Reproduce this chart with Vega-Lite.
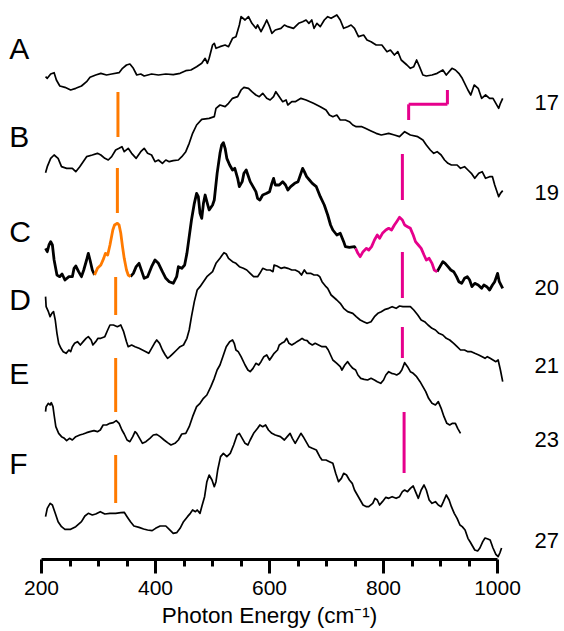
{
"$schema": "https://vega.github.io/schema/vega-lite/v6.json",
"width": 456, "height": 559,
"autosize": {"type": "none"},
"padding": {"left": 41, "top": 0, "right": 67, "bottom": 72},
"background": "white",
"config": {"view": {"stroke": null}, "font": "Liberation Sans"},
"datasets": {
"spectra": [
{"s":"A","x":208,"y":1447},{"s":"A","x":211,"y":1442},{"s":"A","x":217,"y":1455},{"s":"A","x":223,"y":1459},{"s":"A","x":227,"y":1437},{"s":"A","x":233,"y":1419},{"s":"A","x":242,"y":1415},{"s":"A","x":252,"y":1407},{"s":"A","x":261,"y":1412},{"s":"A","x":271,"y":1419},{"s":"A","x":280,"y":1432},{"s":"A","x":286,"y":1445},{"s":"A","x":296,"y":1452},{"s":"A","x":305,"y":1457},{"s":"A","x":315,"y":1452},{"s":"A","x":324,"y":1455},{"s":"A","x":337,"y":1459},{"s":"A","x":343,"y":1472},{"s":"A","x":350,"y":1482},{"s":"A","x":356,"y":1485},{"s":"A","x":362,"y":1472},{"s":"A","x":368,"y":1452},{"s":"A","x":375,"y":1455},{"s":"A","x":381,"y":1449},{"s":"A","x":394,"y":1455},{"s":"A","x":406,"y":1452},{"s":"A","x":419,"y":1455},{"s":"A","x":432,"y":1453},{"s":"A","x":444,"y":1457},{"s":"A","x":454,"y":1465},{"s":"A","x":463,"y":1467},{"s":"A","x":473,"y":1477},{"s":"A","x":482,"y":1487},{"s":"A","x":488,"y":1502},{"s":"A","x":492,"y":1487},{"s":"A","x":495,"y":1502},{"s":"A","x":501,"y":1542},{"s":"A","x":504,"y":1547},{"s":"A","x":507,"y":1532},{"s":"A","x":514,"y":1537},{"s":"A","x":523,"y":1542},{"s":"A","x":529,"y":1537},{"s":"A","x":536,"y":1562},{"s":"A","x":542,"y":1567},{"s":"A","x":548,"y":1602},{"s":"A","x":551,"y":1627},{"s":"A","x":558,"y":1617},{"s":"A","x":564,"y":1627},{"s":"A","x":570,"y":1607},{"s":"A","x":577,"y":1592},{"s":"A","x":580,"y":1602},{"s":"A","x":586,"y":1582},{"s":"A","x":592,"y":1602},{"s":"A","x":596,"y":1617},{"s":"A","x":601,"y":1597},{"s":"A","x":605,"y":1577},{"s":"A","x":611,"y":1587},{"s":"A","x":621,"y":1592},{"s":"A","x":627,"y":1602},{"s":"A","x":633,"y":1597},{"s":"A","x":643,"y":1592},{"s":"A","x":652,"y":1607},{"s":"A","x":659,"y":1612},{"s":"A","x":665,"y":1617},{"s":"A","x":670,"y":1607},{"s":"A","x":675,"y":1617},{"s":"A","x":679,"y":1592},{"s":"A","x":684,"y":1607},{"s":"A","x":690,"y":1597},{"s":"A","x":697,"y":1617},{"s":"A","x":703,"y":1627},{"s":"A","x":709,"y":1622},{"s":"A","x":719,"y":1632},{"s":"A","x":725,"y":1617},{"s":"A","x":731,"y":1592},{"s":"A","x":738,"y":1597},{"s":"A","x":744,"y":1602},{"s":"A","x":750,"y":1592},{"s":"A","x":757,"y":1567},{"s":"A","x":766,"y":1572},{"s":"A","x":772,"y":1557},{"s":"A","x":779,"y":1552},{"s":"A","x":788,"y":1542},{"s":"A","x":798,"y":1542},{"s":"A","x":807,"y":1522},{"s":"A","x":813,"y":1527},{"s":"A","x":820,"y":1512},{"s":"A","x":826,"y":1522},{"s":"A","x":832,"y":1497},{"s":"A","x":842,"y":1482},{"s":"A","x":848,"y":1472},{"s":"A","x":854,"y":1477},{"s":"A","x":859,"y":1497},{"s":"A","x":864,"y":1477},{"s":"A","x":870,"y":1452},{"s":"A","x":876,"y":1449},{"s":"A","x":886,"y":1452},{"s":"A","x":895,"y":1457},{"s":"A","x":905,"y":1467},{"s":"A","x":911,"y":1452},{"s":"A","x":921,"y":1472},{"s":"A","x":927,"y":1467},{"s":"A","x":933,"y":1457},{"s":"A","x":939,"y":1442},{"s":"A","x":949,"y":1407},{"s":"A","x":954,"y":1392},{"s":"A","x":960,"y":1422},{"s":"A","x":967,"y":1412},{"s":"A","x":973,"y":1382},{"s":"A","x":980,"y":1392},{"s":"A","x":987,"y":1382},{"s":"A","x":993,"y":1382},{"s":"A","x":998,"y":1367},{"s":"A","x":1003,"y":1352},{"s":"A","x":1006,"y":1367},{"s":"A","x":1010,"y":1382},
{"s":"B","x":208,"y":1159},{"s":"B","x":211,"y":1177},{"s":"B","x":217,"y":1202},{"s":"B","x":223,"y":1212},{"s":"B","x":230,"y":1202},{"s":"B","x":236,"y":1177},{"s":"B","x":245,"y":1172},{"s":"B","x":255,"y":1172},{"s":"B","x":261,"y":1162},{"s":"B","x":268,"y":1177},{"s":"B","x":274,"y":1192},{"s":"B","x":280,"y":1207},{"s":"B","x":290,"y":1212},{"s":"B","x":299,"y":1217},{"s":"B","x":305,"y":1212},{"s":"B","x":312,"y":1202},{"s":"B","x":318,"y":1197},{"s":"B","x":324,"y":1207},{"s":"B","x":331,"y":1227},{"s":"B","x":337,"y":1232},{"s":"B","x":342,"y":1237},{"s":"B","x":346,"y":1222},{"s":"B","x":353,"y":1232},{"s":"B","x":359,"y":1217},{"s":"B","x":367,"y":1202},{"s":"B","x":375,"y":1222},{"s":"B","x":381,"y":1232},{"s":"B","x":387,"y":1217},{"s":"B","x":394,"y":1212},{"s":"B","x":400,"y":1192},{"s":"B","x":406,"y":1197},{"s":"B","x":413,"y":1187},{"s":"B","x":419,"y":1197},{"s":"B","x":425,"y":1192},{"s":"B","x":432,"y":1195},{"s":"B","x":441,"y":1197},{"s":"B","x":447,"y":1207},{"s":"B","x":454,"y":1222},{"s":"B","x":460,"y":1247},{"s":"B","x":466,"y":1277},{"s":"B","x":473,"y":1302},{"s":"B","x":482,"y":1319},{"s":"B","x":495,"y":1322},{"s":"B","x":504,"y":1327},{"s":"B","x":507,"y":1352},{"s":"B","x":514,"y":1362},{"s":"B","x":523,"y":1357},{"s":"B","x":529,"y":1367},{"s":"B","x":536,"y":1382},{"s":"B","x":545,"y":1387},{"s":"B","x":551,"y":1407},{"s":"B","x":556,"y":1415},{"s":"B","x":564,"y":1412},{"s":"B","x":570,"y":1402},{"s":"B","x":577,"y":1392},{"s":"B","x":583,"y":1387},{"s":"B","x":589,"y":1397},{"s":"B","x":596,"y":1382},{"s":"B","x":602,"y":1377},{"s":"B","x":608,"y":1387},{"s":"B","x":612,"y":1402},{"s":"B","x":618,"y":1387},{"s":"B","x":624,"y":1372},{"s":"B","x":630,"y":1377},{"s":"B","x":633,"y":1362},{"s":"B","x":640,"y":1372},{"s":"B","x":646,"y":1372},{"s":"B","x":656,"y":1382},{"s":"B","x":665,"y":1377},{"s":"B","x":678,"y":1367},{"s":"B","x":690,"y":1357},{"s":"B","x":700,"y":1347},{"s":"B","x":706,"y":1332},{"s":"B","x":712,"y":1327},{"s":"B","x":719,"y":1332},{"s":"B","x":725,"y":1317},{"s":"B","x":734,"y":1317},{"s":"B","x":741,"y":1312},{"s":"B","x":747,"y":1302},{"s":"B","x":753,"y":1297},{"s":"B","x":763,"y":1297},{"s":"B","x":769,"y":1292},{"s":"B","x":779,"y":1284},{"s":"B","x":788,"y":1277},{"s":"B","x":797,"y":1272},{"s":"B","x":810,"y":1277},{"s":"B","x":820,"y":1272},{"s":"B","x":829,"y":1267},{"s":"B","x":838,"y":1282},{"s":"B","x":848,"y":1272},{"s":"B","x":861,"y":1267},{"s":"B","x":870,"y":1257},{"s":"B","x":876,"y":1242},{"s":"B","x":883,"y":1227},{"s":"B","x":889,"y":1217},{"s":"B","x":895,"y":1222},{"s":"B","x":902,"y":1212},{"s":"B","x":908,"y":1197},{"s":"B","x":914,"y":1187},{"s":"B","x":920,"y":1182},{"s":"B","x":930,"y":1182},{"s":"B","x":936,"y":1172},{"s":"B","x":943,"y":1177},{"s":"B","x":949,"y":1167},{"s":"B","x":955,"y":1157},{"s":"B","x":961,"y":1142},{"s":"B","x":968,"y":1157},{"s":"B","x":974,"y":1162},{"s":"B","x":980,"y":1142},{"s":"B","x":987,"y":1147},{"s":"B","x":992,"y":1147},{"s":"B","x":996,"y":1122},{"s":"B","x":1003,"y":1087},{"s":"B","x":1006,"y":1097},{"s":"B","x":1010,"y":1105},
{"s":"C1","x":208,"y":932},{"s":"C1","x":211,"y":922},{"s":"C1","x":214,"y":942},{"s":"C1","x":217,"y":952},{"s":"C1","x":220,"y":942},{"s":"C1","x":223,"y":897},{"s":"C1","x":228,"y":852},{"s":"C1","x":233,"y":847},{"s":"C1","x":237,"y":855},{"s":"C1","x":242,"y":837},{"s":"C1","x":249,"y":847},{"s":"C1","x":255,"y":847},{"s":"C1","x":258,"y":872},{"s":"C1","x":261,"y":879},{"s":"C1","x":266,"y":862},{"s":"C1","x":271,"y":847},{"s":"C1","x":275,"y":867},{"s":"C1","x":280,"y":897},{"s":"C1","x":283,"y":917},{"s":"C1","x":286,"y":897},{"s":"C1","x":290,"y":867},{"s":"C1","x":294,"y":852},
{"s":"Co","x":294,"y":852},{"s":"Co","x":299,"y":872},{"s":"Co","x":305,"y":882},{"s":"Co","x":310,"y":902},{"s":"Co","x":313,"y":917},{"s":"Co","x":317,"y":912},{"s":"Co","x":321,"y":942},{"s":"Co","x":326,"y":987},{"s":"Co","x":329,"y":1002},{"s":"Co","x":334,"y":1007},{"s":"Co","x":337,"y":1002},{"s":"Co","x":340,"y":977},{"s":"Co","x":343,"y":937},{"s":"Co","x":346,"y":902},{"s":"Co","x":350,"y":867},{"s":"Co","x":353,"y":852},{"s":"Co","x":357,"y":847},
{"s":"C2","x":357,"y":847},{"s":"C2","x":362,"y":857},{"s":"C2","x":367,"y":877},{"s":"C2","x":372,"y":887},{"s":"C2","x":377,"y":862},{"s":"C2","x":381,"y":842},{"s":"C2","x":387,"y":847},{"s":"C2","x":394,"y":877},{"s":"C2","x":400,"y":897},{"s":"C2","x":406,"y":887},{"s":"C2","x":413,"y":862},{"s":"C2","x":419,"y":842},{"s":"C2","x":425,"y":832},{"s":"C2","x":432,"y":827},{"s":"C2","x":438,"y":847},{"s":"C2","x":441,"y":877},{"s":"C2","x":447,"y":872},{"s":"C2","x":452,"y":882},{"s":"C2","x":456,"y":917},{"s":"C2","x":460,"y":967},{"s":"C2","x":464,"y":1017},{"s":"C2","x":469,"y":1067},{"s":"C2","x":473,"y":1097},{"s":"C2","x":476,"y":1087},{"s":"C2","x":479,"y":1037},{"s":"C2","x":482,"y":1022},{"s":"C2","x":485,"y":1067},{"s":"C2","x":488,"y":1092},{"s":"C2","x":491,"y":1072},{"s":"C2","x":495,"y":1047},{"s":"C2","x":501,"y":1062},{"s":"C2","x":504,"y":1077},{"s":"C2","x":509,"y":1157},{"s":"C2","x":514,"y":1217},{"s":"C2","x":517,"y":1242},{"s":"C2","x":520,"y":1249},{"s":"C2","x":523,"y":1232},{"s":"C2","x":526,"y":1202},{"s":"C2","x":531,"y":1182},{"s":"C2","x":536,"y":1167},{"s":"C2","x":540,"y":1172},{"s":"C2","x":545,"y":1142},{"s":"C2","x":548,"y":1117},{"s":"C2","x":553,"y":1132},{"s":"C2","x":556,"y":1157},{"s":"C2","x":560,"y":1167},{"s":"C2","x":563,"y":1152},{"s":"C2","x":567,"y":1132},{"s":"C2","x":572,"y":1117},{"s":"C2","x":577,"y":1102},{"s":"C2","x":580,"y":1082},{"s":"C2","x":584,"y":1077},{"s":"C2","x":589,"y":1092},{"s":"C2","x":596,"y":1097},{"s":"C2","x":601,"y":1102},{"s":"C2","x":605,"y":1127},{"s":"C2","x":608,"y":1142},{"s":"C2","x":611,"y":1122},{"s":"C2","x":618,"y":1122},{"s":"C2","x":624,"y":1132},{"s":"C2","x":629,"y":1122},{"s":"C2","x":633,"y":1107},{"s":"C2","x":638,"y":1117},{"s":"C2","x":645,"y":1127},{"s":"C2","x":651,"y":1132},{"s":"C2","x":656,"y":1157},{"s":"C2","x":659,"y":1172},{"s":"C2","x":662,"y":1162},{"s":"C2","x":666,"y":1147},{"s":"C2","x":671,"y":1137},{"s":"C2","x":676,"y":1127},{"s":"C2","x":683,"y":1117},{"s":"C2","x":690,"y":1087},{"s":"C2","x":697,"y":1062},{"s":"C2","x":703,"y":1032},{"s":"C2","x":708,"y":1002},{"s":"C2","x":712,"y":987},{"s":"C2","x":719,"y":972},{"s":"C2","x":725,"y":977},{"s":"C2","x":731,"y":952},{"s":"C2","x":734,"y":937},{"s":"C2","x":741,"y":935},{"s":"C2","x":750,"y":937},{"s":"C2","x":752,"y":932},
{"s":"Cm","x":752,"y":932},{"s":"Cm","x":756,"y":917},{"s":"Cm","x":760,"y":907},{"s":"Cm","x":765,"y":922},{"s":"Cm","x":771,"y":932},{"s":"Cm","x":775,"y":927},{"s":"Cm","x":780,"y":937},{"s":"Cm","x":785,"y":957},{"s":"Cm","x":790,"y":972},{"s":"Cm","x":794,"y":962},{"s":"Cm","x":799,"y":977},{"s":"Cm","x":805,"y":987},{"s":"Cm","x":810,"y":992},{"s":"Cm","x":815,"y":987},{"s":"Cm","x":820,"y":1002},{"s":"Cm","x":824,"y":1012},{"s":"Cm","x":829,"y":1025},{"s":"Cm","x":834,"y":1017},{"s":"Cm","x":838,"y":1002},{"s":"Cm","x":843,"y":997},{"s":"Cm","x":848,"y":992},{"s":"Cm","x":853,"y":972},{"s":"Cm","x":857,"y":952},{"s":"Cm","x":862,"y":942},{"s":"Cm","x":867,"y":932},{"s":"Cm","x":872,"y":912},{"s":"Cm","x":876,"y":897},{"s":"Cm","x":881,"y":902},{"s":"Cm","x":886,"y":887},{"s":"Cm","x":890,"y":867},{"s":"Cm","x":895,"y":862},
{"s":"C3","x":895,"y":862},{"s":"C3","x":900,"y":877},{"s":"C3","x":905,"y":892},{"s":"C3","x":909,"y":887},{"s":"C3","x":914,"y":877},{"s":"C3","x":919,"y":867},{"s":"C3","x":924,"y":862},{"s":"C3","x":929,"y":847},{"s":"C3","x":933,"y":832},{"s":"C3","x":938,"y":827},{"s":"C3","x":943,"y":842},{"s":"C3","x":948,"y":847},{"s":"C3","x":952,"y":837},{"s":"C3","x":956,"y":817},{"s":"C3","x":961,"y":827},{"s":"C3","x":967,"y":822},{"s":"C3","x":973,"y":812},{"s":"C3","x":977,"y":822},{"s":"C3","x":982,"y":817},{"s":"C3","x":987,"y":807},{"s":"C3","x":992,"y":822},{"s":"C3","x":996,"y":832},{"s":"C3","x":1001,"y":857},{"s":"C3","x":1004,"y":832},{"s":"C3","x":1010,"y":812},
{"s":"D","x":208,"y":787},{"s":"D","x":209,"y":757},{"s":"D","x":213,"y":742},{"s":"D","x":216,"y":727},{"s":"D","x":219,"y":737},{"s":"D","x":222,"y":742},{"s":"D","x":225,"y":717},{"s":"D","x":228,"y":677},{"s":"D","x":231,"y":647},{"s":"D","x":235,"y":632},{"s":"D","x":239,"y":622},{"s":"D","x":244,"y":617},{"s":"D","x":249,"y":627},{"s":"D","x":252,"y":622},{"s":"D","x":255,"y":637},{"s":"D","x":259,"y":647},{"s":"D","x":264,"y":652},{"s":"D","x":269,"y":642},{"s":"D","x":274,"y":652},{"s":"D","x":279,"y":662},{"s":"D","x":283,"y":667},{"s":"D","x":288,"y":657},{"s":"D","x":291,"y":642},{"s":"D","x":296,"y":652},{"s":"D","x":300,"y":662},{"s":"D","x":305,"y":662},{"s":"D","x":312,"y":667},{"s":"D","x":317,"y":687},{"s":"D","x":321,"y":702},{"s":"D","x":327,"y":702},{"s":"D","x":334,"y":697},{"s":"D","x":340,"y":702},{"s":"D","x":345,"y":682},{"s":"D","x":350,"y":652},{"s":"D","x":353,"y":637},{"s":"D","x":359,"y":642},{"s":"D","x":365,"y":637},{"s":"D","x":372,"y":632},{"s":"D","x":378,"y":627},{"s":"D","x":384,"y":622},{"s":"D","x":389,"y":617},{"s":"D","x":394,"y":632},{"s":"D","x":399,"y":647},{"s":"D","x":403,"y":657},{"s":"D","x":408,"y":647},{"s":"D","x":413,"y":627},{"s":"D","x":418,"y":612},{"s":"D","x":422,"y":602},{"s":"D","x":426,"y":607},{"s":"D","x":432,"y":617},{"s":"D","x":438,"y":627},{"s":"D","x":444,"y":637},{"s":"D","x":450,"y":642},{"s":"D","x":456,"y":662},{"s":"D","x":460,"y":687},{"s":"D","x":464,"y":727},{"s":"D","x":469,"y":772},{"s":"D","x":474,"y":807},{"s":"D","x":479,"y":817},{"s":"D","x":485,"y":832},{"s":"D","x":491,"y":847},{"s":"D","x":501,"y":862},{"s":"D","x":507,"y":887},{"s":"D","x":514,"y":902},{"s":"D","x":518,"y":912},{"s":"D","x":521,"y":919},{"s":"D","x":525,"y":915},{"s":"D","x":529,"y":902},{"s":"D","x":536,"y":892},{"s":"D","x":542,"y":887},{"s":"D","x":548,"y":877},{"s":"D","x":555,"y":872},{"s":"D","x":561,"y":867},{"s":"D","x":567,"y":857},{"s":"D","x":573,"y":847},{"s":"D","x":580,"y":847},{"s":"D","x":584,"y":857},{"s":"D","x":589,"y":872},{"s":"D","x":596,"y":867},{"s":"D","x":602,"y":867},{"s":"D","x":607,"y":862},{"s":"D","x":609,"y":882},{"s":"D","x":614,"y":879},{"s":"D","x":621,"y":872},{"s":"D","x":627,"y":875},{"s":"D","x":633,"y":872},{"s":"D","x":640,"y":867},{"s":"D","x":646,"y":867},{"s":"D","x":652,"y":862},{"s":"D","x":657,"y":852},{"s":"D","x":662,"y":867},{"s":"D","x":666,"y":857},{"s":"D","x":673,"y":857},{"s":"D","x":679,"y":852},{"s":"D","x":685,"y":852},{"s":"D","x":689,"y":847},{"s":"D","x":693,"y":832},{"s":"D","x":700,"y":817},{"s":"D","x":703,"y":812},{"s":"D","x":709,"y":792},{"s":"D","x":719,"y":777},{"s":"D","x":725,"y":767},{"s":"D","x":731,"y":752},{"s":"D","x":738,"y":742},{"s":"D","x":747,"y":737},{"s":"D","x":753,"y":727},{"s":"D","x":760,"y":717},{"s":"D","x":766,"y":712},{"s":"D","x":772,"y":707},{"s":"D","x":779,"y":712},{"s":"D","x":785,"y":727},{"s":"D","x":791,"y":737},{"s":"D","x":797,"y":742},{"s":"D","x":804,"y":749},{"s":"D","x":810,"y":752},{"s":"D","x":816,"y":757},{"s":"D","x":823,"y":752},{"s":"D","x":829,"y":759},{"s":"D","x":835,"y":757},{"s":"D","x":842,"y":757},{"s":"D","x":848,"y":757},{"s":"D","x":854,"y":747},{"s":"D","x":861,"y":732},{"s":"D","x":867,"y":717},{"s":"D","x":873,"y":712},{"s":"D","x":879,"y":702},{"s":"D","x":886,"y":692},{"s":"D","x":892,"y":687},{"s":"D","x":898,"y":677},{"s":"D","x":905,"y":672},{"s":"D","x":911,"y":662},{"s":"D","x":917,"y":657},{"s":"D","x":924,"y":647},{"s":"D","x":930,"y":637},{"s":"D","x":936,"y":627},{"s":"D","x":943,"y":627},{"s":"D","x":949,"y":622},{"s":"D","x":955,"y":622},{"s":"D","x":961,"y":617},{"s":"D","x":968,"y":612},{"s":"D","x":974,"y":607},{"s":"D","x":979,"y":602},{"s":"D","x":983,"y":607},{"s":"D","x":988,"y":602},{"s":"D","x":993,"y":597},{"s":"D","x":998,"y":592},{"s":"D","x":1002,"y":597},{"s":"D","x":1006,"y":567},{"s":"D","x":1010,"y":532},
{"s":"E","x":208,"y":442},{"s":"E","x":209,"y":457},{"s":"E","x":213,"y":467},{"s":"E","x":216,"y":462},{"s":"E","x":218,"y":469},{"s":"E","x":221,"y":457},{"s":"E","x":223,"y":432},{"s":"E","x":226,"y":397},{"s":"E","x":231,"y":377},{"s":"E","x":236,"y":367},{"s":"E","x":241,"y":362},{"s":"E","x":245,"y":355},{"s":"E","x":250,"y":362},{"s":"E","x":255,"y":357},{"s":"E","x":261,"y":367},{"s":"E","x":268,"y":372},{"s":"E","x":274,"y":375},{"s":"E","x":280,"y":379},{"s":"E","x":286,"y":382},{"s":"E","x":293,"y":385},{"s":"E","x":299,"y":382},{"s":"E","x":304,"y":387},{"s":"E","x":309,"y":402},{"s":"E","x":315,"y":402},{"s":"E","x":321,"y":407},{"s":"E","x":327,"y":409},{"s":"E","x":332,"y":415},{"s":"E","x":337,"y":407},{"s":"E","x":342,"y":387},{"s":"E","x":346,"y":375},{"s":"E","x":351,"y":357},{"s":"E","x":356,"y":352},{"s":"E","x":361,"y":367},{"s":"E","x":365,"y":382},{"s":"E","x":368,"y":377},{"s":"E","x":373,"y":362},{"s":"E","x":378,"y":347},{"s":"E","x":384,"y":352},{"s":"E","x":391,"y":362},{"s":"E","x":397,"y":372},{"s":"E","x":403,"y":374},{"s":"E","x":409,"y":367},{"s":"E","x":416,"y":357},{"s":"E","x":422,"y":349},{"s":"E","x":428,"y":342},{"s":"E","x":435,"y":347},{"s":"E","x":441,"y":357},{"s":"E","x":447,"y":375},{"s":"E","x":454,"y":377},{"s":"E","x":460,"y":397},{"s":"E","x":466,"y":427},{"s":"E","x":473,"y":457},{"s":"E","x":479,"y":467},{"s":"E","x":485,"y":482},{"s":"E","x":491,"y":492},{"s":"E","x":498,"y":517},{"s":"E","x":504,"y":542},{"s":"E","x":509,"y":567},{"s":"E","x":514,"y":582},{"s":"E","x":519,"y":607},{"s":"E","x":525,"y":637},{"s":"E","x":531,"y":652},{"s":"E","x":536,"y":657},{"s":"E","x":539,"y":647},{"s":"E","x":542,"y":627},{"s":"E","x":546,"y":622},{"s":"E","x":551,"y":607},{"s":"E","x":558,"y":582},{"s":"E","x":563,"y":567},{"s":"E","x":567,"y":562},{"s":"E","x":572,"y":572},{"s":"E","x":577,"y":587},{"s":"E","x":582,"y":582},{"s":"E","x":586,"y":592},{"s":"E","x":591,"y":607},{"s":"E","x":596,"y":612},{"s":"E","x":601,"y":597},{"s":"E","x":605,"y":607},{"s":"E","x":609,"y":617},{"s":"E","x":615,"y":627},{"s":"E","x":618,"y":642},{"s":"E","x":622,"y":647},{"s":"E","x":627,"y":652},{"s":"E","x":631,"y":662},{"s":"E","x":635,"y":647},{"s":"E","x":640,"y":642},{"s":"E","x":645,"y":647},{"s":"E","x":649,"y":652},{"s":"E","x":654,"y":657},{"s":"E","x":658,"y":662},{"s":"E","x":662,"y":657},{"s":"E","x":667,"y":655},{"s":"E","x":671,"y":647},{"s":"E","x":676,"y":642},{"s":"E","x":681,"y":647},{"s":"E","x":687,"y":642},{"s":"E","x":693,"y":637},{"s":"E","x":700,"y":637},{"s":"E","x":704,"y":627},{"s":"E","x":708,"y":612},{"s":"E","x":712,"y":597},{"s":"E","x":719,"y":587},{"s":"E","x":725,"y":577},{"s":"E","x":728,"y":567},{"s":"E","x":733,"y":582},{"s":"E","x":738,"y":592},{"s":"E","x":742,"y":582},{"s":"E","x":747,"y":572},{"s":"E","x":752,"y":567},{"s":"E","x":756,"y":552},{"s":"E","x":761,"y":542},{"s":"E","x":767,"y":539},{"s":"E","x":773,"y":537},{"s":"E","x":779,"y":542},{"s":"E","x":785,"y":537},{"s":"E","x":790,"y":532},{"s":"E","x":796,"y":527},{"s":"E","x":801,"y":537},{"s":"E","x":805,"y":552},{"s":"E","x":810,"y":562},{"s":"E","x":815,"y":557},{"s":"E","x":820,"y":555},{"s":"E","x":824,"y":552},{"s":"E","x":829,"y":557},{"s":"E","x":833,"y":567},{"s":"E","x":838,"y":589},{"s":"E","x":843,"y":577},{"s":"E","x":848,"y":562},{"s":"E","x":853,"y":557},{"s":"E","x":859,"y":547},{"s":"E","x":865,"y":532},{"s":"E","x":870,"y":517},{"s":"E","x":875,"y":502},{"s":"E","x":880,"y":482},{"s":"E","x":886,"y":467},{"s":"E","x":892,"y":462},{"s":"E","x":897,"y":472},{"s":"E","x":902,"y":452},{"s":"E","x":907,"y":427},{"s":"E","x":912,"y":407},{"s":"E","x":917,"y":402},{"s":"E","x":922,"y":407},{"s":"E","x":927,"y":407},{"s":"E","x":931,"y":392},{"s":"E","x":936,"y":377},
{"s":"F","x":208,"y":127},{"s":"F","x":211,"y":152},{"s":"F","x":216,"y":167},{"s":"F","x":220,"y":162},{"s":"F","x":225,"y":137},{"s":"F","x":230,"y":112},{"s":"F","x":236,"y":97},{"s":"F","x":242,"y":89},{"s":"F","x":252,"y":89},{"s":"F","x":261,"y":97},{"s":"F","x":271,"y":112},{"s":"F","x":277,"y":129},{"s":"F","x":283,"y":137},{"s":"F","x":290,"y":132},{"s":"F","x":296,"y":135},{"s":"F","x":304,"y":142},{"s":"F","x":312,"y":135},{"s":"F","x":321,"y":137},{"s":"F","x":331,"y":137},{"s":"F","x":340,"y":139},{"s":"F","x":346,"y":140},{"s":"F","x":351,"y":127},{"s":"F","x":357,"y":112},{"s":"F","x":363,"y":99},{"s":"F","x":372,"y":95},{"s":"F","x":380,"y":90},{"s":"F","x":387,"y":87},{"s":"F","x":395,"y":85},{"s":"F","x":401,"y":92},{"s":"F","x":409,"y":99},{"s":"F","x":419,"y":99},{"s":"F","x":425,"y":89},{"s":"F","x":432,"y":77},{"s":"F","x":438,"y":79},{"s":"F","x":444,"y":92},{"s":"F","x":450,"y":112},{"s":"F","x":457,"y":127},{"s":"F","x":462,"y":137},{"s":"F","x":466,"y":147},{"s":"F","x":471,"y":142},{"s":"F","x":474,"y":147},{"s":"F","x":479,"y":137},{"s":"F","x":482,"y":157},{"s":"F","x":487,"y":187},{"s":"F","x":491,"y":232},{"s":"F","x":495,"y":252},{"s":"F","x":500,"y":237},{"s":"F","x":504,"y":217},{"s":"F","x":507,"y":232},{"s":"F","x":510,"y":267},{"s":"F","x":515,"y":307},{"s":"F","x":520,"y":317},{"s":"F","x":526,"y":307},{"s":"F","x":532,"y":317},{"s":"F","x":538,"y":342},{"s":"F","x":544,"y":372},{"s":"F","x":548,"y":377},{"s":"F","x":553,"y":362},{"s":"F","x":558,"y":347},{"s":"F","x":563,"y":342},{"s":"F","x":567,"y":357},{"s":"F","x":573,"y":377},{"s":"F","x":580,"y":392},{"s":"F","x":584,"y":402},{"s":"F","x":589,"y":397},{"s":"F","x":594,"y":402},{"s":"F","x":599,"y":387},{"s":"F","x":605,"y":377},{"s":"F","x":611,"y":372},{"s":"F","x":620,"y":367},{"s":"F","x":627,"y":357},{"s":"F","x":632,"y":367},{"s":"F","x":637,"y":377},{"s":"F","x":641,"y":362},{"s":"F","x":646,"y":347},{"s":"F","x":651,"y":362},{"s":"F","x":656,"y":377},{"s":"F","x":660,"y":367},{"s":"F","x":665,"y":352},{"s":"F","x":670,"y":337},{"s":"F","x":676,"y":332},{"s":"F","x":683,"y":327},{"s":"F","x":689,"y":307},{"s":"F","x":693,"y":297},{"s":"F","x":700,"y":297},{"s":"F","x":706,"y":292},{"s":"F","x":712,"y":287},{"s":"F","x":717,"y":257},{"s":"F","x":722,"y":232},{"s":"F","x":727,"y":242},{"s":"F","x":731,"y":257},{"s":"F","x":736,"y":252},{"s":"F","x":741,"y":237},{"s":"F","x":746,"y":227},{"s":"F","x":750,"y":207},{"s":"F","x":755,"y":192},{"s":"F","x":760,"y":177},{"s":"F","x":765,"y":162},{"s":"F","x":771,"y":157},{"s":"F","x":775,"y":157},{"s":"F","x":782,"y":167},{"s":"F","x":786,"y":182},{"s":"F","x":790,"y":177},{"s":"F","x":794,"y":162},{"s":"F","x":799,"y":172},{"s":"F","x":805,"y":185},{"s":"F","x":810,"y":182},{"s":"F","x":816,"y":187},{"s":"F","x":823,"y":182},{"s":"F","x":829,"y":187},{"s":"F","x":834,"y":202},{"s":"F","x":838,"y":207},{"s":"F","x":843,"y":202},{"s":"F","x":848,"y":212},{"s":"F","x":853,"y":219},{"s":"F","x":857,"y":202},{"s":"F","x":862,"y":182},{"s":"F","x":867,"y":207},{"s":"F","x":872,"y":222},{"s":"F","x":876,"y":207},{"s":"F","x":881,"y":177},{"s":"F","x":886,"y":167},{"s":"F","x":892,"y":172},{"s":"F","x":897,"y":162},{"s":"F","x":902,"y":157},{"s":"F","x":906,"y":172},{"s":"F","x":911,"y":192},{"s":"F","x":916,"y":177},{"s":"F","x":920,"y":157},{"s":"F","x":925,"y":137},{"s":"F","x":930,"y":122},{"s":"F","x":935,"y":102},{"s":"F","x":939,"y":97},{"s":"F","x":944,"y":87},{"s":"F","x":949,"y":62},{"s":"F","x":953,"y":51},{"s":"F","x":961,"y":27},{"s":"F","x":966,"y":24},{"s":"F","x":970,"y":33},{"s":"F","x":975,"y":52},{"s":"F","x":979,"y":63},{"s":"F","x":984,"y":60},{"s":"F","x":988,"y":57},{"s":"F","x":993,"y":33},{"s":"F","x":998,"y":14},{"s":"F","x":1002,"y":7},{"s":"F","x":1005,"y":18},{"s":"F","x":1008,"y":33}
],
"marks": [
{"band":"330","x":335,"x2":335,"y":1401,"y2":1266},
{"band":"330","x":334,"x2":334,"y":1173,"y2":1038},
{"band":"330","x":331,"x2":331,"y":846,"y2":732},
{"band":"330","x":331,"x2":331,"y":603,"y2":441},
{"band":"330","x":331,"x2":331,"y":312,"y2":168},
{"band":"835","x":834,"x2":834,"y":1215,"y2":1077},
{"band":"835","x":834,"x2":834,"y":921,"y2":783},
{"band":"835","x":834,"x2":834,"y":696,"y2":603},
{"band":"835","x":837,"x2":837,"y":441,"y2":258},
{"band":"835","x":845,"x2":845,"y":1317,"y2":1364},
{"band":"835","x":845,"x2":913,"y":1364,"y2":1364},
{"band":"835","x":913,"x2":913,"y":1364,"y2":1407}
],
"letters": [
{"t":"A","x":144.5,"y":1527},{"t":"B","x":144.5,"y":1263},{"t":"C","x":144.5,"y":979},{"t":"D","x":144.5,"y":775},{"t":"E","x":144.5,"y":552},{"t":"F","x":144.5,"y":282}
],
"numbers": [
{"t":"17","x":1066,"y":1369},{"t":"19","x":1066,"y":1097},{"t":"20","x":1066,"y":813},{"t":"21","x":1066,"y":579},{"t":"23","x":1066,"y":357},{"t":"27","x":1066,"y":55}
]
},
"encoding": {
"x": {"field": "x", "type": "quantitative",
 "scale": {"domain": [200, 1000], "nice": false, "zero": false},
 "axis": {"values": [200,250,300,350,400,450,500,550,600,650,700,750,800,850,900,950,1000],
  "format": "d", "labelExpr": "datum.value % 200 === 0 ? datum.label : ''",
  "title": "Photon Energy (cm⁻¹)", "titleFontSize": 22.5, "titleFontWeight": "normal", "titleColor": "black", "titleFont": "Liberation Sans", "titlePadding": 6,
  "labelFontSize": 21, "labelColor": "black", "labelFont": "Liberation Sans", "labelFlush": false, "labelOverlap": false, "labelPadding": 4,
  "domainColor": "black", "domainWidth": 3, "tickColor": "black", "tickWidth": 3,
  "tickSize": {"condition": {"test": "datum.value % 200 === 0", "value": 14}, "value": 7},
  "grid": false}},
"y": {"field": "y", "type": "quantitative", "scale": {"domain": [0, 1677], "nice": false, "zero": false}, "axis": null}
},
"layer": [
{"data": {"name": "spectra"}, "transform": [{"filter": {"field": "s", "oneOf": ["A","B","D","E","F"]}}],
 "mark": {"type": "line", "color": "black", "strokeWidth": 1.7, "strokeJoin": "round"},
 "encoding": {"detail": {"field": "s"}}},
{"data": {"name": "spectra"}, "transform": [{"filter": {"field": "s", "oneOf": ["C1","C2","C3"]}}],
 "mark": {"type": "line", "color": "black", "strokeWidth": 2.8, "strokeJoin": "round"},
 "encoding": {"detail": {"field": "s"}}},
{"data": {"name": "spectra"}, "transform": [{"filter": {"field": "s", "equal": "Co"}}],
 "mark": {"type": "line", "color": "#ff7a00", "strokeWidth": 2.8, "strokeJoin": "round"},
 "encoding": {}},
{"data": {"name": "spectra"}, "transform": [{"filter": {"field": "s", "equal": "Cm"}}],
 "mark": {"type": "line", "color": "#e6008c", "strokeWidth": 2.8, "strokeJoin": "round"},
 "encoding": {}},
{"data": {"name": "marks"}, "transform": [{"filter": {"field": "band", "equal": "330"}}],
 "mark": {"type": "rule", "color": "#ff7a00", "strokeWidth": 3},
 "encoding": {"x2": {"field": "x2"}, "y2": {"field": "y2"}}},
{"data": {"name": "marks"}, "transform": [{"filter": {"field": "band", "equal": "835"}}],
 "mark": {"type": "rule", "color": "#e6008c", "strokeWidth": 3},
 "encoding": {"x2": {"field": "x2"}, "y2": {"field": "y2"}}},
{"data": {"name": "letters"},
 "mark": {"type": "text", "align": "left", "baseline": "middle", "fontSize": 30, "font": "Liberation Sans", "color": "black"},
 "encoding": {"text": {"field": "t"}}},
{"data": {"name": "numbers"},
 "mark": {"type": "text", "align": "left", "baseline": "middle", "fontSize": 22, "font": "Liberation Sans", "color": "black"},
 "encoding": {"text": {"field": "t"}}}
]
}
